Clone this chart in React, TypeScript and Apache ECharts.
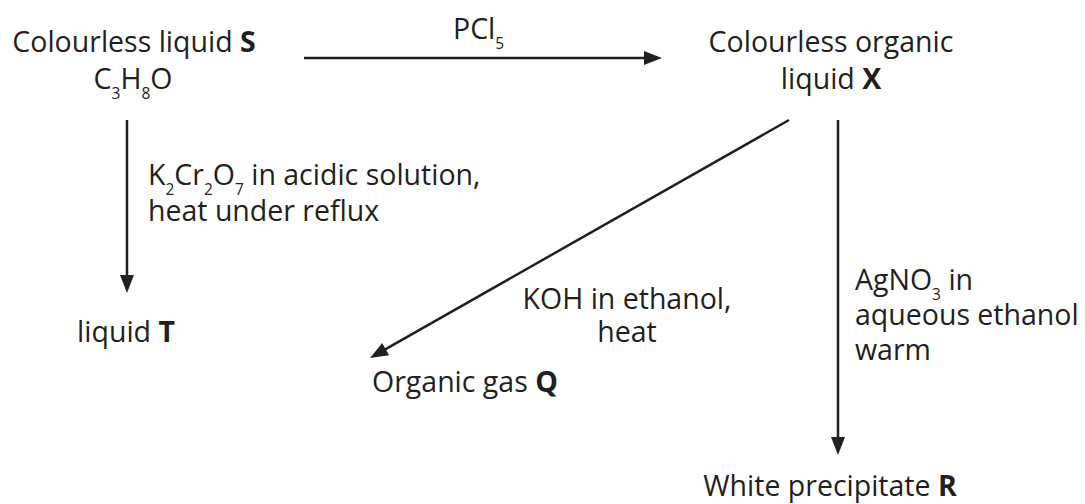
import React, { useEffect, useRef } from "react";
import * as echarts from "echarts";

type Kind = "n" | "b" | "s";
type Seg = [string, Kind];

// ---- texts of the scheme ----
const labelS1: Seg[] = [["Colourless liquid ", "n"], ["S", "b"]];
const formulaS: Seg[] = [["C", "n"], ["3", "s"], ["H", "n"], ["8", "s"], ["O", "n"]];
const reagentPCl5: Seg[] = [["PCl", "n"], ["5", "s"]];
const labelX1: Seg[] = [["Colourless organic", "n"]];
const labelX2: Seg[] = [["liquid ", "n"], ["X", "b"]];
const reagentOx1: Seg[] = [["K", "n"], ["2", "s"], ["Cr", "n"], ["2", "s"], ["O", "n"], ["7", "s"], [" in acidic solution,", "n"]];
const reagentOx2: Seg[] = [["heat under reflux", "n"]];
const labelT: Seg[] = [["liquid ", "n"], ["T", "b"]];
const reagentKOH1: Seg[] = [["KOH in ethanol,", "n"]];
const reagentKOH2: Seg[] = [["heat", "n"]];
const labelQ: Seg[] = [["Organic gas ", "n"], ["Q", "b"]];
const reagentAg1: Seg[] = [["AgNO", "n"], ["3", "s"], [" in", "n"]];
const reagentAg2: Seg[] = [["aqueous ethanol", "n"]];
const reagentAg3: Seg[] = [["warm", "n"]];
const labelR: Seg[] = [["White precipitate ", "n"], ["R", "b"]];

// ---- layout (positions, not data) ----
type Place = { segs: Seg[]; x: number; y: number; align: "left" | "center" };
const placements: Place[] = [
  { segs: labelS1, x: 134, y: 52, align: "center" },
  { segs: formulaS, x: 133, y: 89, align: "center" },
  { segs: reagentPCl5, x: 453, y: 39, align: "left" },
  { segs: labelX1, x: 831, y: 52, align: "center" },
  { segs: labelX2, x: 831, y: 89, align: "center" },
  { segs: reagentOx1, x: 148, y: 185, align: "left" },
  { segs: reagentOx2, x: 148, y: 221, align: "left" },
  { segs: labelT, x: 126, y: 342, align: "center" },
  { segs: reagentKOH1, x: 627, y: 309, align: "center" },
  { segs: reagentKOH2, x: 627, y: 342, align: "center" },
  { segs: labelQ, x: 372, y: 392, align: "left" },
  { segs: reagentAg1, x: 855, y: 290, align: "left" },
  { segs: reagentAg2, x: 855, y: 325, align: "left" },
  { segs: reagentAg3, x: 855, y: 360, align: "left" },
  { segs: labelR, x: 830, y: 496, align: "center" },
];

const arrows: [number, number, number, number][] = [
  [304, 58, 662, 58],
  [127, 120, 127, 293],
  [789, 120, 370, 358],
  [838, 120, 838, 455],
];

const FONT = "'Open Sans', 'Noto Sans', 'DejaVu Sans', sans-serif";
const INK = "#231f20";
const MAIN = 28.5;
const SUB = 15.5;
const SUB_DROP = 10;
const K = 0.388; // central baseline offset ratio for Open Sans

function buildElements(): any[] {
  const canvas = document.createElement("canvas");
  const ctx = canvas.getContext("2d")!;
  const measure = (t: string, size: number, bold: boolean) => {
    ctx.font = `${bold ? "bold " : ""}${size}px ${FONT}`;
    return ctx.measureText(t).width;
  };
  const els: any[] = [];
  for (const p of placements) {
    const widths = p.segs.map(([t, k]) => measure(t, k === "s" ? SUB : MAIN, k === "b"));
    const total = widths.reduce((a, b) => a + b, 0);
    let x = p.align === "center" ? p.x - total / 2 : p.x;
    p.segs.forEach(([t, k], i) => {
      const size = k === "s" ? SUB : MAIN;
      const base = k === "s" ? p.y + SUB_DROP : p.y;
      els.push({
        type: "text",
        x,
        y: base - K * size,
        silent: true,
        style: {
          text: t,
          fontSize: size,
          fontFamily: FONT,
          fontWeight: k === "b" ? "bold" : "normal",
          fill: INK,
          lineHeight: Math.round(size),
          align: "left",
          verticalAlign: "middle",
          textAlign: "left",
          textVerticalAlign: "middle",
        },
      });
      x += widths[i];
    });
  }
  const L = 18;
  const W = 7;
  for (const [x1, y1, x2, y2] of arrows) {
    const dx = x2 - x1;
    const dy = y2 - y1;
    const len = Math.hypot(dx, dy);
    const ux = dx / len;
    const uy = dy / len;
    const bx = x2 - ux * L;
    const by = y2 - uy * L;
    els.push({
      type: "line",
      silent: true,
      shape: { x1, y1, x2: bx + ux * 2, y2: by + uy * 2 },
      style: { stroke: INK, lineWidth: 2.5 },
    });
    els.push({
      type: "polygon",
      silent: true,
      shape: {
        points: [
          [x2, y2],
          [bx - uy * W, by + ux * W],
          [bx + uy * W, by - ux * W],
        ],
      },
      style: { fill: INK },
    });
  }
  return els;
}

export default function App() {
  const ref = useRef<HTMLDivElement>(null);
  useEffect(() => {
    if (!ref.current) return;
    const chart = echarts.init(ref.current, undefined, { renderer: "svg" });
    chart.setOption({
      animation: false,
      backgroundColor: "#ffffff",
      graphic: { elements: buildElements() },
    });
    return () => chart.dispose();
  }, []);
  return (
    <div
      ref={ref}
      style={{ position: "absolute", left: 0, top: 0, width: 1085, height: 504, background: "#fff" }}
    />
  );
}
